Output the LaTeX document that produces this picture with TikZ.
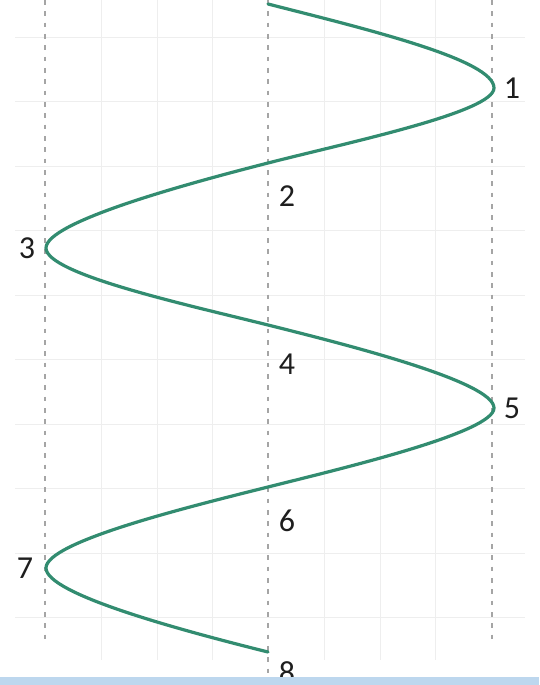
\documentclass[tikz,border=0pt]{standalone}
\usepackage{fontspec}
\setmainfont{Carlito}
\definecolor{curvecol}{RGB}{50,140,112}
\definecolor{bandcol}{RGB}{189,215,238}
\definecolor{guidecol}{RGB}{165,165,165}
\definecolor{gridcol}{RGB}{238,238,238}
\definecolor{labcol}{RGB}{30,30,30}
\begin{document}
\begin{tikzpicture}[x=0.75pt,y=-0.75pt,
  guide/.style={draw=guidecol,line width=2.1pt,dash pattern=on 3.5pt off 5pt},
  gridline/.style={draw=gridcol,line width=0.7pt},
  wave/.style={draw=curvecol,line width=2.4pt,line cap=round},
  lab/.style={text=labcol,font=\fontsize{24}{26}\selectfont,inner sep=0pt}]
\useasboundingbox (0,0) rectangle (539,685);
\fill[white] (0,0) rectangle (539,685);
% faint grid
\foreach \gx in {101,157,212,324,380,435} \draw[gridline] (\gx,0) -- (\gx,660);
\foreach \gy in {37,101.5,166,230.5,295,359.5,424,488.5,553,617.5} \draw[gridline] (15,\gy) -- (525,\gy);
% guide lines
\coordinate (gl1) at (45,0);  \coordinate (gl2) at (45,640);
\coordinate (gm1) at (268,0); \coordinate (gm2) at (268,685);
\coordinate (gr1) at (492,0); \coordinate (gr2) at (492,640);
\draw[guide] (gl1) -- (gl2);
\draw[guide] (gm1) -- (gm2);
\draw[guide] (gr1) -- (gr2);
% curve points
\coordinate (s) at (268,4);
\coordinate (p1) at (494,88);
\coordinate (c2) at (268,163);
\coordinate (p3) at (46,248);
\coordinate (c4) at (268,325);
\coordinate (p5) at (494,408);
\coordinate (c6) at (268,487);
\coordinate (p7) at (46,568);
\coordinate (e) at (268,652);
\draw[wave] (s) .. controls (370,30) and (494,60) .. (p1)
  .. controls (494,112) and (350,142) .. (c2)
  .. controls (186,184) and (46,222) .. (p3)
  .. controls (46,274) and (186,304.5) .. (c4)
  .. controls (350,345.5) and (494,382) .. (p5)
  .. controls (494,432) and (350,466.5) .. (c6)
  .. controls (186,507.5) and (46,542) .. (p7)
  .. controls (46,594) and (180,630) .. (e);
% labels
\node[lab] (l1) at (512,88) {1};
\node[lab] (l2) at (287,196) {2};
\node[lab] (l3) at (27,248) {3};
\node[lab] (l4) at (287,364) {4};
\node[lab] (l5) at (512,408) {5};
\node[lab] (l6) at (287,521) {6};
\node[lab] (l7) at (25,568) {7};
\node[lab] (l8) at (287,673) {8};
% bottom band
\fill[bandcol] (0,677) rectangle (539,685);
\end{tikzpicture}
\end{document}
